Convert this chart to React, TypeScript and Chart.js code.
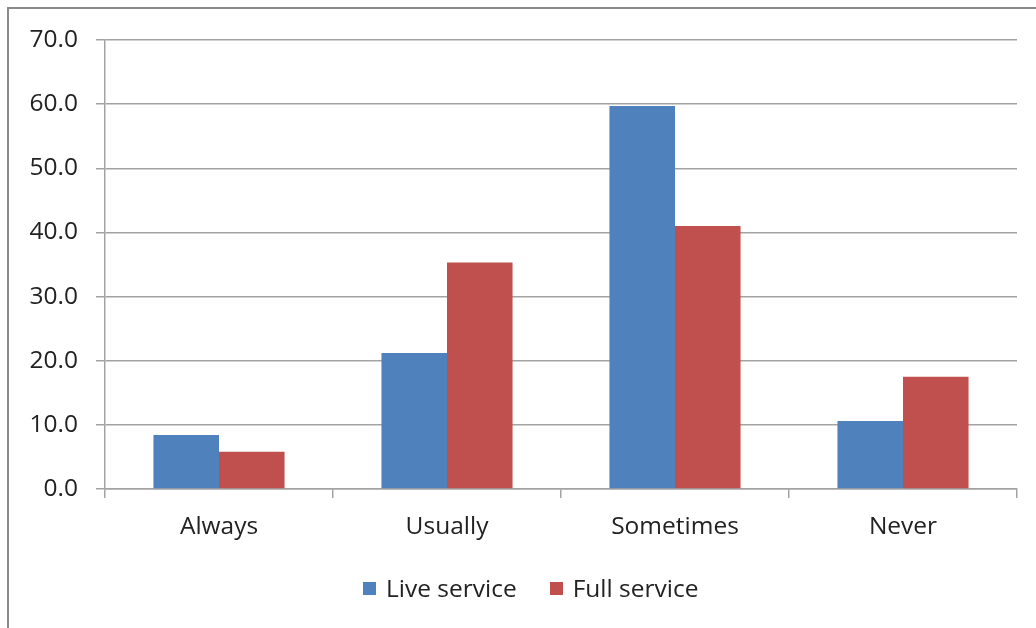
import React, { useEffect, useRef } from "react";
import { Chart, registerables } from "chart.js";

Chart.register(...registerables);

const categories = ["Always", "Usually", "Sometimes", "Never"];
const liveService = [8.4, 21.2, 59.7, 10.6];
const fullService = [5.8, 35.3, 41.0, 17.5];
const seriesNames = ["Live service", "Full service"];
const seriesColors = ["#4F81BD", "#C0504D"];

const FONT = "'Open Sans', 'Liberation Sans', sans-serif";
const FONT_SIZE = 24.5;
const TEXT = "#222222";
const GRID = "#a3a3a3";

export default function App() {
  const canvasRef = useRef<HTMLCanvasElement | null>(null);

  useEffect(() => {
    if (!canvasRef.current) return;
    const chart = new Chart(canvasRef.current, {
      type: "bar",
      data: {
        labels: categories,
        datasets: [
          {
            label: seriesNames[0],
            data: liveService,
            backgroundColor: seriesColors[0],
            borderWidth: 0,
            barPercentage: 1,
            categoryPercentage: 0.575,
          },
          {
            label: seriesNames[1],
            data: fullService,
            backgroundColor: seriesColors[1],
            borderWidth: 0,
            barPercentage: 1,
            categoryPercentage: 0.575,
          },
        ],
      },
      options: {
        animation: false,
        responsive: true,
        maintainAspectRatio: false,
        layout: { padding: { top: 40, right: 19, left: 0, bottom: 0 } },
        plugins: {
          legend: { display: false },
          tooltip: { enabled: false },
          title: { display: false },
        },
        scales: {
          x: {
            grid: {
              display: true,
              drawOnChartArea: false,
              offset: true,
              tickLength: 9,
              color: GRID,
              lineWidth: 1.5,
            },
            border: { display: true, color: GRID, width: 1.5 },
            ticks: {
              font: { family: FONT, size: FONT_SIZE },
              color: TEXT,
              padding: 14,
            },
            afterFit: (s: any) => {
              s.height = 139;
            },
          },
          y: {
            min: 0,
            max: 70,
            ticks: {
              stepSize: 10,
              font: { family: FONT, size: FONT_SIZE },
              color: TEXT,
              padding: 18,
              callback: (v: any) => Number(v).toFixed(1),
            },
            grid: { color: GRID, lineWidth: 1.5, tickLength: 9 },
            border: { display: true, color: GRID, width: 1.5 },
            afterFit: (s: any) => {
              s.width = 105;
            },
          },
        },
      },
    });
    return () => chart.destroy();
  }, []);

  return (
    <div
      style={{
        position: "fixed",
        left: 0,
        top: 0,
        width: 1036,
        height: 628,
        background: "#fff",
        overflow: "hidden",
      }}
    >
      <div
        style={{
          position: "absolute",
          left: 7,
          top: 7,
          width: 1100,
          height: 700,
          borderLeft: "2px solid #8a8a8a",
          borderTop: "2px solid #8a8a8a",
        }}
      />
      <div style={{ position: "absolute", left: 0, top: 0, width: 1036, height: 628 }}>
        <canvas ref={canvasRef} />
      </div>
      <div
        style={{
          position: "absolute",
          left: 363,
          top: 573,
          display: "flex",
          alignItems: "center",
          fontFamily: FONT,
          fontSize: FONT_SIZE,
          color: TEXT,
          lineHeight: "30px",
          whiteSpace: "nowrap",
        }}
      >
        {seriesNames.map((name, i) => (
          <div key={name} style={{ display: "flex", alignItems: "center", marginRight: i === 0 ? 33 : 0 }}>
            <span
              style={{
                display: "inline-block",
                width: 13,
                height: 13,
                background: seriesColors[i],
                marginRight: 10,
              }}
            />
            <span>{name}</span>
          </div>
        ))}
      </div>
    </div>
  );
}
